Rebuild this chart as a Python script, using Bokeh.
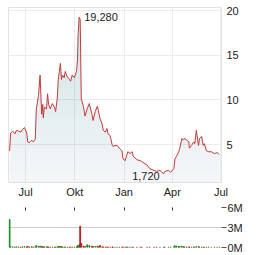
import numpy as np
import pandas as pd
from bokeh.plotting import figure
from bokeh.models import Range1d, FixedTicker, ColumnDataSource
from bokeh.layouts import column
from bokeh.core.properties import value
from bokeh.embed import file_html
from bokeh.resources import INLINE

dates = ["2024-06-01","2024-06-03","2024-06-07","2024-06-11","2024-06-14","2024-06-18","2024-06-22","2024-06-25","2024-06-29",
         "2024-07-03","2024-07-05","2024-07-08","2024-07-12","2024-07-15","2024-07-19","2024-07-21","2024-07-25","2024-07-28","2024-07-31",
         "2024-08-02","2024-08-03","2024-08-05","2024-08-09","2024-08-11","2024-08-13","2024-08-16","2024-08-20","2024-08-24","2024-08-26","2024-08-29","2024-08-31",
         "2024-09-02","2024-09-04","2024-09-06","2024-09-08","2024-09-11","2024-09-13","2024-09-17","2024-09-21","2024-09-23","2024-09-26","2024-09-30",
         "2024-10-04","2024-10-06","2024-10-07","2024-10-09","2024-10-11","2024-10-13","2024-10-17","2024-10-20","2024-10-24","2024-10-28",
         "2024-11-02","2024-11-04","2024-11-08","2024-11-12","2024-11-14","2024-11-17","2024-11-21","2024-11-23","2024-11-27","2024-11-30",
         "2024-12-02","2024-12-06","2024-12-10","2024-12-11","2024-12-15","2024-12-19","2024-12-23","2024-12-28","2024-12-30",
         "2025-01-03","2025-01-06","2025-01-08","2025-01-12","2025-01-16","2025-01-18","2025-01-25","2025-01-31",
         "2025-02-03","2025-02-13","2025-02-18","2025-02-26","2025-03-03","2025-03-09","2025-03-16","2025-03-18","2025-03-25","2025-03-29",
         "2025-04-04","2025-04-06","2025-04-09","2025-04-13","2025-04-15","2025-04-19","2025-04-22","2025-04-24","2025-04-28",
         "2025-05-02","2025-05-03","2025-05-07","2025-05-11","2025-05-13","2025-05-16","2025-05-20","2025-05-22","2025-05-26","2025-05-29","2025-05-31",
         "2025-06-04","2025-06-08","2025-06-13","2025-06-19","2025-06-24","2025-06-28"]

prices = [4.3,6.3,6.5,6.2,6.6,6.5,6.4,6.7,6.9,
          6.3,5.3,5.2,5.5,5.3,5.6,9.0,10.5,12.8,8.4,
          9.5,8.0,9.2,9.0,10.7,9.5,9.0,9.6,9.2,8.7,10.1,12.3,
          13.2,14.1,12.3,12.8,12.5,13.2,12.6,12.3,12.1,12.8,12.5,
          13.2,14.6,17.2,19.28,19.0,10.1,9.3,8.2,9.0,9.6,
          8.4,7.7,8.7,9.3,8.8,7.9,7.3,6.6,6.4,6.8,
          6.2,6.0,4.9,4.8,4.9,4.9,4.6,4.3,3.4,
          3.2,3.8,4.2,4.0,4.2,3.7,3.3,3.2,
          3.1,2.7,2.3,2.1,2.0,2.1,1.72,2.0,2.1,1.9,
          2.3,3.4,3.7,4.2,4.6,5.7,5.5,5.7,5.5,
          5.3,4.6,4.9,5.3,5.1,6.6,4.9,5.7,5.9,4.9,5.1,
          4.3,4.2,4.2,4.0,4.1,3.9]

volumes_m = [4.2,0.15,0.1,0.08,0.1,0.08,0.06,0.1,0.12,
             0.1,0.15,0.08,0.1,0.08,0.1,0.3,0.15,0.2,0.15,
             0.1,0.08,0.1,0.08,0.12,0.08,0.06,0.08,0.06,0.05,0.1,0.15,
             0.12,0.15,0.1,0.08,0.06,0.08,0.06,0.05,0.05,0.08,0.06,
             0.1,0.2,0.3,0.4,3.2,0.6,0.2,0.15,0.4,0.3,
             0.2,0.15,0.15,0.2,0.1,0.3,0.1,0.08,0.06,0.08,
             0.06,0.05,0.08,0.06,0.05,0.05,0.05,0.05,0.08,
             0.06,0.08,0.06,0.05,0.05,0.05,0.05,0.05,
             0.05,0.05,0.05,0.05,0.05,0.05,0.06,0.06,0.05,0.05,
             0.1,0.25,0.2,0.15,0.15,0.2,0.1,0.1,0.08,
             0.06,0.08,0.06,0.08,0.05,0.15,0.1,0.08,0.06,0.06,0.05,
             0.05,0.05,0.04,0.04,0.05,0.04]

month_ticks = ["2024-07-01", "2024-10-01", "2025-01-01", "2025-04-01", "2025-07-01"]
month_labels = ["Jul", "Okt", "Jan", "Apr", "Jul"]
price_ticks = [5, 10, 15, 20]
vol_ticks = [0, 3e6, 6e6]
vol_labels = ["0M", "3M", "6M"]

origin = pd.Timestamp("2024-07-01")
xs = np.array([(pd.Timestamp(d) - origin).days for d in dates], dtype=float)
ps = np.array(prices)
vols = np.array(volumes_m) * 1e6
tick_x = [float((pd.Timestamp(d) - origin).days) for d in month_ticks]

FONT = "Liberation Sans"
TXT = "#222222"

x_range = Range1d(-32, 366)
ymin, ymax = 0.75, 20.37

p = figure(width=264, height=200, x_range=x_range, y_range=Range1d(ymin, ymax),
           output_backend="svg", toolbar_location=None, y_axis_location="right",
           min_border_left=8, min_border_right=43, min_border_top=7, min_border_bottom=15)
p.outline_line_color = "#e3e3e3"
p.background_fill_color = "white"
p.border_fill_color = "white"

p.xaxis.ticker = FixedTicker(ticks=tick_x)
p.xaxis.major_label_overrides = {t: l for t, l in zip(tick_x, month_labels)}
p.xaxis.major_tick_out = 0
p.xaxis.major_tick_in = 0
p.xaxis.minor_tick_line_color = None
p.xaxis.axis_line_color = None
p.xaxis.major_label_standoff = 3
p.xaxis.major_label_text_font = FONT
p.xaxis.major_label_text_font_size = "11px"
p.xaxis.major_label_text_color = TXT

p.yaxis.ticker = FixedTicker(ticks=price_ticks)
p.yaxis.major_tick_out = 0
p.yaxis.major_tick_in = 0
p.yaxis.minor_tick_line_color = None
p.yaxis.axis_line_color = None
p.yaxis.major_label_standoff = 5
p.yaxis.major_label_text_font = FONT
p.yaxis.major_label_text_font_size = "11px"
p.yaxis.major_label_text_color = TXT

p.xgrid.ticker = FixedTicker(ticks=tick_x)
p.ygrid.ticker = FixedTicker(ticks=price_ticks)
p.xgrid.grid_line_color = "#ececec"
p.ygrid.grid_line_color = "#ececec"

# gradient-like fill built from stacked translucent areas
p.varea(x=xs, y1=ymin, y2=ps, fill_color="#7890aa", fill_alpha=0.08)
N = 20
for L in np.linspace(ymin, 20, N + 1)[1:]:
    p.varea(x=xs, y1=L, y2=np.maximum(ps, L), fill_color="#7890aa", fill_alpha=0.013)

p.line(xs, ps, line_color="#c23b3b", line_width=1)

imax = int(np.argmax(ps))
imin = int(np.argmin(ps))
p.text(x=[xs[imax]], y=[ps[imax]], text=[f"{ps[imax]:.3f}".replace(".", ",")],
       x_offset=5, y_offset=0, text_align="left", text_baseline="middle",
       text_font=value(FONT), text_font_size="11px", text_color=TXT)
p.text(x=[xs[imin]], y=[ps[imin]], text=[f"{ps[imin]:.3f}".replace(".", ",")],
       x_offset=-4, y_offset=2, text_align="right", text_baseline="middle",
       text_font=value(FONT), text_font_size="11px", text_color=TXT)

# volume pane
v = figure(width=264, height=55, x_range=x_range, y_range=Range1d(0, 6e6),
           output_backend="svg", toolbar_location=None, y_axis_location="right",
           x_axis_location="above",
           min_border_left=8, min_border_right=43, min_border_top=7, min_border_bottom=8)
v.outline_line_color = None
v.border_fill_color = "white"
v.xgrid.grid_line_color = None
v.ygrid.ticker = FixedTicker(ticks=vol_ticks)
v.ygrid.grid_line_color = "#cccccc"

v.xaxis.ticker = FixedTicker(ticks=tick_x[:-1])
v.xaxis.major_label_overrides = {t: "" for t in tick_x}
v.xaxis.major_label_standoff = 0
v.xaxis.major_label_text_font_size = "1px"
v.xaxis.major_tick_in = 3
v.xaxis.major_tick_out = 0
v.xaxis.major_tick_line_color = "#333333"
v.xaxis.minor_tick_line_color = None
v.xaxis.axis_line_color = None

v.yaxis.ticker = FixedTicker(ticks=vol_ticks)
v.yaxis.major_label_overrides = {t: l for t, l in zip(vol_ticks, vol_labels)}
v.yaxis.major_tick_out = 5
v.yaxis.major_tick_in = 0
v.yaxis.major_tick_line_color = "#555555"
v.yaxis.minor_tick_line_color = None
v.yaxis.axis_line_color = None
v.yaxis.major_label_standoff = 1
v.yaxis.major_label_text_font = FONT
v.yaxis.major_label_text_font_size = "11px"
v.yaxis.major_label_text_color = TXT

prev = np.concatenate([[ps[0] - 1], ps[:-1]])
colors = ["#1e8a1e" if c >= pp else "#b22222" for c, pp in zip(ps, prev)]
src = ColumnDataSource(dict(x=xs, top=vols, color=colors))
v.vbar(x="x", top="top", width=1.5, color="color", source=src)

layout = column(p, v, spacing=0)
open("out.html", "w").write(file_html(layout, INLINE))
